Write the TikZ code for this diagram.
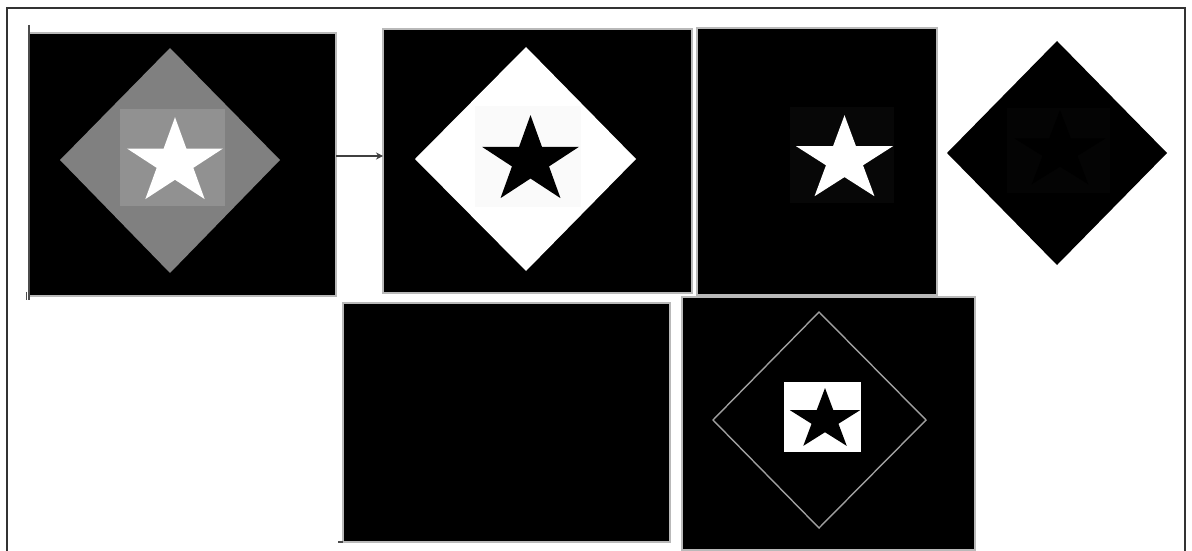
\documentclass[tikz,border=0pt]{standalone}
\usetikzlibrary{arrows.meta}
\definecolor{midgray}{RGB}{128,128,128}
\definecolor{lightgray2}{RGB}{145,145,145}
\definecolor{offwhite}{RGB}{250,250,250}
\definecolor{offblack}{RGB}{7,7,7}
\definecolor{offblackb}{RGB}{4,4,4}
\newcommand\drawstar[5]{%
  \fill[#1] (#2,#3-#5)
  \foreach \k in {1,...,9}{ -- ({#2+(mod(\k,2)==0 ? 1 : 0.382)*#4*cos(90+36*\k)}, {#3-(mod(\k,2)==0 ? 1 : 0.382)*#5*sin(90+36*\k)}) } -- cycle;}
\begin{document}
\begin{tikzpicture}[x=1pt,y=-1pt,
  panel/.style={fill=black, draw=gray!55, line width=1.4pt, inner sep=0pt, outer sep=0pt, anchor=north west},
  frame/.style={draw=black!80, line width=1.6pt},
  conn/.style={draw=black!75, line width=2pt, -{Stealth[length=7pt,width=7pt]}}]
\useasboundingbox (0,0) rectangle (1192,551);
\fill[white] (0,0) rectangle (1192,551);
% outer frame
\draw[frame] (7,570) -- (7,8) -- (1185,8) -- (1185,570);

% panel 1
\node[panel, minimum width=307pt, minimum height=263pt] (p1) at (29,33) {};
\draw[black!70, line width=1.2pt] (29,25) -- (29,300);
\draw[black!70, line width=1pt] (26,292) -- (26,300);
\fill[midgray] (170,48) -- (280,160) -- (170,273) -- (60,160) -- cycle;
\fill[lightgray2] (120,109) rectangle (225,206);
\drawstar{white}{175}{162.5}{50.5}{45.3}

% panel 2
\node[panel, minimum width=309pt, minimum height=264pt] (p2) at (383,29) {};
\fill[white] (526,47) -- (636,159) -- (526,271) -- (415,159) -- cycle;
\fill[offwhite] (475,106) rectangle (581,207);
\drawstar{black}{530.5}{161}{51}{45.9}

% arrow
\draw[conn] (p1.east |- 0,156) -- (p2.west |- 0,156);

% panel 3
\node[panel, minimum width=240pt, minimum height=267pt] (p3) at (697,28) {};
\fill[offblack] (790,107) rectangle (894,203);
\drawstar{white}{844.5}{160}{51}{44.8}

% panel 4 (diamond)
\node[fill=black, inner sep=0pt, minimum size=0pt] (p4) at (1057,153) {};
\fill[black] (1057,41) -- (1167,153) -- (1057,265) -- (947,153) -- cycle;
\fill[offblackb] (1007,108) rectangle (1110,193);
\drawstar{black}{1060}{151}{48}{41}

% panel 5
\node[panel, minimum width=327pt, minimum height=239pt] (p5) at (343,303) {};
\draw[black!70, line width=1.2pt] (338,542) -- (343,542);

% panel 6
\node[panel, minimum width=293pt, minimum height=253pt] (p6) at (682,297) {};
\draw[gray!75, line width=1.4pt] (819,312) -- (926,420) -- (819,528) -- (713,420) -- cycle;
\fill[white] (784,382) rectangle (861,452);
\begin{scope}
\clip (784,382) rectangle (861,452);
\drawstar{black}{825}{420}{37}{32}
\end{scope}
\end{tikzpicture}
\end{document}
